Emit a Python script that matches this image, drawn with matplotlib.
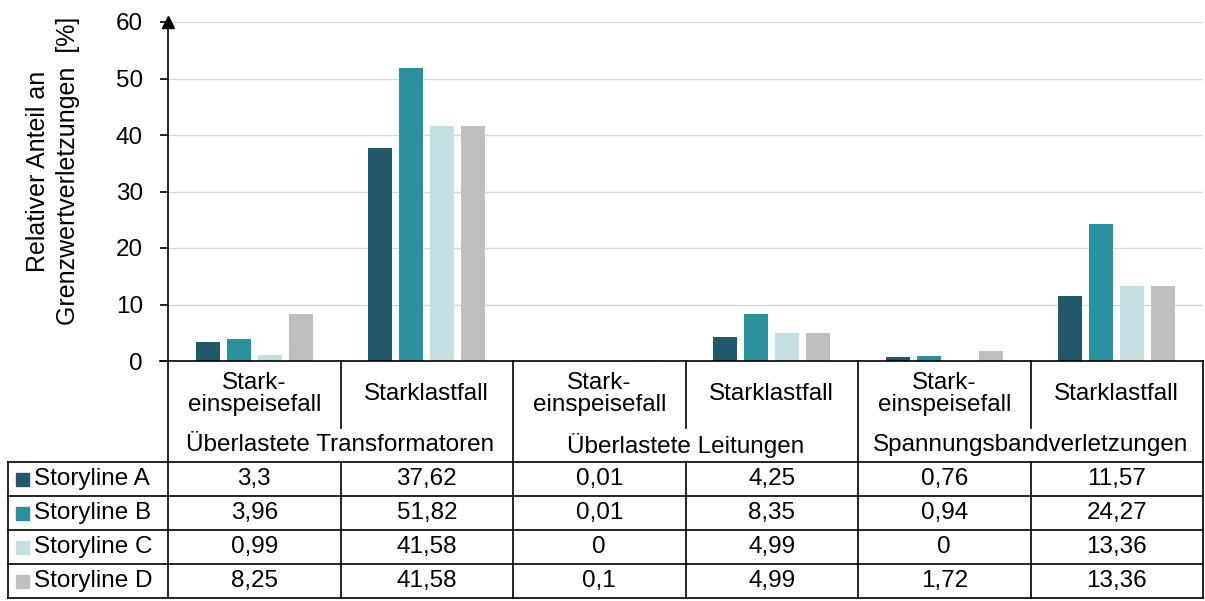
import numpy as np
import matplotlib
matplotlib.use("Agg")
import matplotlib.pyplot as plt
from matplotlib.lines import Line2D
from matplotlib.patches import Rectangle
from matplotlib.transforms import blended_transform_factory

plt.rcParams["font.family"] = ["Liberation Sans", "DejaVu Sans"]

# ── Data ──────────────────────────────────────────────────────────────────────
cases = ["Stark-\neinspeisefall", "Starklastfall"] * 3
groups = ["Überlastete Transformatoren", "Überlastete Leitungen", "Spannungsbandverletzungen"]
series = ["Storyline A", "Storyline B", "Storyline C", "Storyline D"]
storyline_a = [3.3, 37.62, 0.01, 4.25, 0.76, 11.57]
storyline_b = [3.96, 51.82, 0.01, 8.35, 0.94, 24.27]
storyline_c = [0.99, 41.58, 0, 4.99, 0, 13.36]
storyline_d = [8.25, 41.58, 0.1, 4.99, 1.72, 13.36]
labels_a = ["3,3", "37,62", "0,01", "4,25", "0,76", "11,57"]
labels_b = ["3,96", "51,82", "0,01", "8,35", "0,94", "24,27"]
labels_c = ["0,99", "41,58", "0", "4,99", "0", "13,36"]
labels_d = ["8,25", "41,58", "0,1", "4,99", "1,72", "13,36"]
colors = ["#22596a", "#2a919e", "#c3dfe2", "#bfbfbf"]
yticks = [0, 10, 20, 30, 40, 50, 60]

values = [storyline_a, storyline_b, storyline_c, storyline_d]
cell_labels = [labels_a, labels_b, labels_c, labels_d]

W, H = 1205, 601
FS = 17.5
fig = plt.figure(figsize=(W / 100, H / 100), dpi=100)
ax = fig.add_axes([168 / W, 1 - 361 / H, (1203 - 168) / W, (361 - 22) / H])

x = np.arange(len(cases)) + 0.5
step, width = 0.18, 0.14
for i, (vals, col) in enumerate(zip(values, colors)):
    ax.bar(x + (i - 1.5) * step, vals, width=width, color=col, zorder=3)

ax.set_xlim(0, len(cases))
ax.set_ylim(0, 60)
ax.set_yticks(yticks)
ax.set_yticklabels([str(t) for t in yticks], fontsize=FS)
ax.tick_params(axis="y", length=6, width=1.2, pad=12)
ax.set_xticks([])
ax.grid(axis="y", color="#d9d9d9", linewidth=1, zorder=0)
for s in ["top", "right", "bottom"]:
    ax.spines[s].set_visible(False)
ax.spines["left"].set_linewidth(1.2)
ax.plot(0, 1, marker="^", color="black", markersize=8, transform=ax.transAxes,
        clip_on=False, zorder=5)
ax.set_ylabel("Relativer Anteil an\nGrenzwertverletzungen  [%]", fontsize=18,
              linespacing=1.3)
ax.yaxis.set_label_coords(-0.085, 0.56)

# ── Data table below the axis ───────────────────────────────────────────────
tr = blended_transform_factory(ax.transData, fig.transFigure)
fy = lambda py: 1 - py / H
fx = lambda px: px / W
lw = 1.2
n = len(cases)

def hline(x0, x1, py):
    fig.add_artist(Line2D([x0, x1], [fy(py), fy(py)], color="black", lw=lw, transform=tr))

def vline(xc, py0, py1):
    fig.add_artist(Line2D([xc, xc], [fy(py0), fy(py1)], color="black", lw=lw, transform=tr))

# baseline, slightly left of the y axis
fig.add_artist(Line2D([fx(160), fx(1203)], [fy(361), fy(361)], color="black", lw=lw))
row_edges = [462, 496, 530, 564, 598]
for py in row_edges:
    hline(0, n, py)
    fig.add_artist(Line2D([fx(8), fx(168)], [fy(py), fy(py)], color="black", lw=lw))
fig.add_artist(Line2D([fx(8), fx(8)], [fy(462), fy(598)], color="black", lw=lw))

for k in range(n + 1):
    if k in (0, 2, 4, 6):
        vline(k, 361, 598)
    else:
        vline(k, 361, 428)
        vline(k, 462, 598)

for i, c in enumerate(cases):
    fig.text(x[i], fy(394), c, transform=tr, ha="center", va="center",
             fontsize=FS, linespacing=1.05)
for g, name in enumerate(groups):
    fig.text(2 * g + 1, fy(445), name, transform=tr, ha="center", va="center", fontsize=FS)

for r, (name, labs) in enumerate(zip(series, cell_labels)):
    yc = (row_edges[r] + row_edges[r + 1]) / 2
    fig.add_artist(Rectangle((fx(16), fy(yc + 7)), 13 / W, 13 / H,
                             color=colors[r], transform=fig.transFigure))
    fig.text(fx(34), fy(yc), name, ha="left", va="center", fontsize=FS)
    for i, lab in enumerate(labs):
        fig.text(x[i], fy(yc), lab, transform=tr, ha="center", va="center", fontsize=FS)

fig.savefig("out.png", dpi=100)
